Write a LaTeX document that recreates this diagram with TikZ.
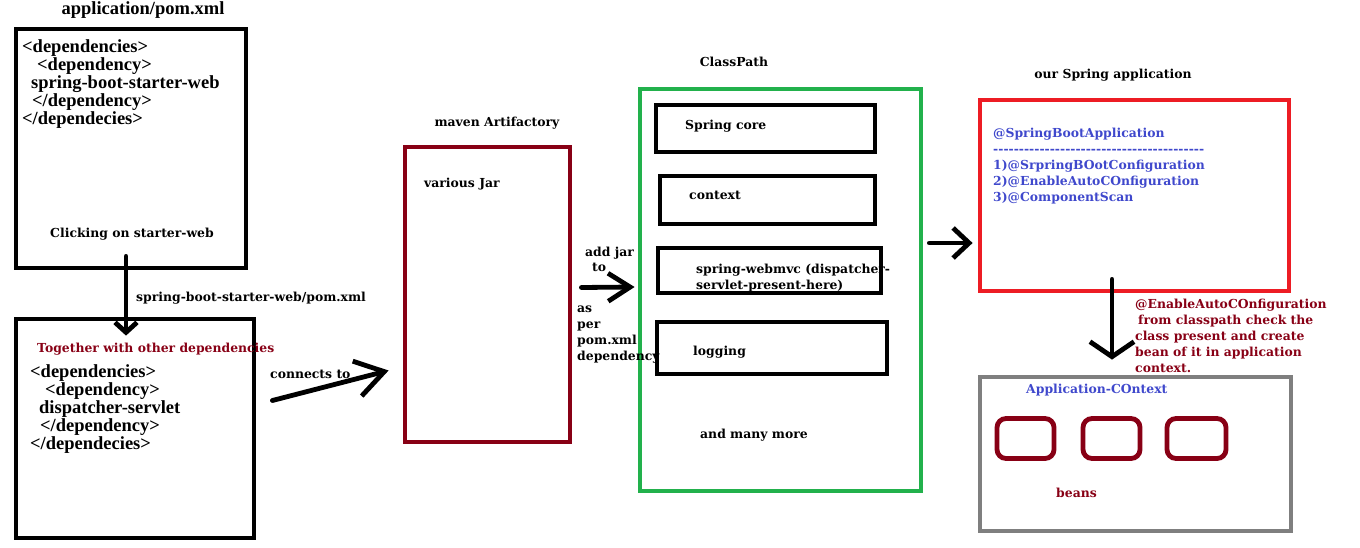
\documentclass[tikz,border=0pt]{standalone}
\usepackage{fontspec}
\setmainfont{Liberation Serif}
\newfontfamily\lblfont{DejaVu Serif}
\usetikzlibrary{positioning,arrows.meta,calc}

\definecolor{darkred}{HTML}{880015}
\definecolor{cpgreen}{HTML}{22B14C}
\definecolor{appred}{HTML}{ED1C24}
\definecolor{annblue}{HTML}{3F48CC}
\definecolor{ctxgray}{HTML}{7F7F7F}

\tikzset{
  box/.style 2 args={draw, line width=4.8pt, inner sep=0pt, minimum width=#1, minimum height=#2},
  xml/.style={font=\bfseries\fontsize{18.5}{18}\selectfont, inner sep=0pt, align=left, anchor=base west},
  lbl/.style={font=\lblfont\bfseries\fontsize{12.4}{16}\selectfont, inner sep=0pt, align=left, anchor=base west},
  handarrow/.style 2 args={line width=4.8pt, line cap=round, line join=round, -{Straight Barb[length=#1,width=#2]}},
}

\begin{document}
\begin{tikzpicture}[x=1pt,y=-1pt]
  \useasboundingbox (0,0) rectangle (1360,548);
  % boxes
  \node[box={230pt}{239pt}] (pom) at (131,148.5) {};
  \node[box={238pt}{219pt}] (starter) at (135,428.5) {};
  \node[box={165pt}{295pt}, darkred] (maven) at (487.5,294.5) {};
  \node[box={281pt}{402pt}, cpgreen] (classpath) at (780.5,290) {};
  \node[box={219pt}{47pt}] (core) at (765.5,128.5) {};
  \node[box={215pt}{48pt}] (context) at (767.5,200) {};
  \node[box={223pt}{45pt}] (webmvc) at (769.5,270.5) {};
  \node[box={230pt}{52pt}] (logging) at (772,348) {};
  \node[box={309pt}{191pt}, appred] (app) at (1134.5,195.5) {};
  \node[box={311pt}{154pt}, ctxgray] (ctx) at (1135.5,454) {};
  % beans
  \foreach \bx/\bw [count=\i] in {1025.5/57, 1111.5/57, 1196.5/59} {
    \node[box={\bw pt}{40pt}, darkred, rounded corners=9pt] (bean\i) at (\bx,438.5) {};
  }

  % texts (multi-line nodes sit on the baseline of their last line)
  \node[xml, anchor=base] (pomtitle) at (143,15) {application/pom.xml};
  \node[xml] (pomxml) at (22,125) {<dependencies>\\
    \hspace*{15pt}<dependency>\\
    \hspace*{9pt}spring-boot-starter-web\\
    \hspace*{10pt}</dependency>\\
    </dependecies>};
  \node[lbl, anchor=base] (click) at (132,238) {Clicking on starter-web};
  \node[lbl] (starterpom) at (136,301) {spring-boot-starter-web/pom.xml};
  \node[lbl, darkred] (together) at (37,352) {Together with other dependencies};
  \node[xml] (starterxml) at (30,449) {<dependencies>\\
    \hspace*{15pt}<dependency>\\
    \hspace*{9pt}dispatcher-servlet\\
    \hspace*{10pt}</dependency>\\
    </dependecies>};
  \node[lbl] (connects) at (270,378) {connects to};
  \node[lbl, anchor=base] (maventitle) at (497,127) {maven Artifactory};
  \node[lbl] (jars) at (424,188) {various Jar};
  \node[lbl] (addjar) at (585,272) {add jar\\\hspace*{7pt}to};
  \node[lbl] (asper) at (577,360) {as\\per\\pom.xml\\dependency};
  \node[lbl, anchor=base] (cptitle) at (734,67) {ClassPath};
  \node[lbl] at (685,130) (coretxt) {Spring core};
  \node[lbl] at (689,200) (contexttxt) {context};
  \node[lbl] at (696,289) (webmvctxt) {spring-webmvc (dispatcher-\\servlet-present-here)};
  \node[lbl] at (693,355) (loggingtxt) {logging};
  \node[lbl] at (700,438) (moretxt) {and many more};
  \node[lbl, anchor=base] (apptitle) at (1113,79) {our Spring application};
  \node[lbl, annblue] (annot) at (993,202) {@SpringBootApplication\\
    \foreach \k in {1,...,41}{-\kern0pt}\\
    1)@SrpringBOotConfiguration\\
    2)@EnableAutoCOnfiguration\\
    3)@ComponentScan};
  \node[lbl, darkred] (autonote) at (1135,372) {@EnableAutoCOnfiguration\\
    \hspace*{3pt}from classpath check the\\
    class present and create\\
    bean of it in application\\
    context.};
  \node[lbl, annblue] (ctxtitle) at (1026,393) {Application-COntext};
  \node[lbl, darkred] (beanstxt) at (1056,497) {beans};

  % arrows
  \draw[handarrow={10pt}{22pt}] ([xshift=-5pt,yshift=14pt]pom.south) -- ([xshift=-9pt,yshift=-19pt]starter.north);
  \draw[handarrow={28pt}{36pt}] ([xshift=16pt,yshift=28pt]starter.east) -- ([xshift=-14pt,yshift=-76pt]maven.west);
  \draw[handarrow={22pt}{28pt}] ([xshift=9pt,yshift=7pt]maven.east) -- ([xshift=-3pt,yshift=3pt]classpath.west);
  \draw[handarrow={16pt}{30pt}] ([xshift=6pt,yshift=47pt]classpath.east) -- ([xshift=-5pt,yshift=-47.5pt]app.west);
  \draw[handarrow={15pt}{44pt}] ([xshift=-22.5pt,yshift=14pt]app.south) -- ([xshift=-23.5pt,yshift=15pt]ctx.north);
\end{tikzpicture}
\end{document}
